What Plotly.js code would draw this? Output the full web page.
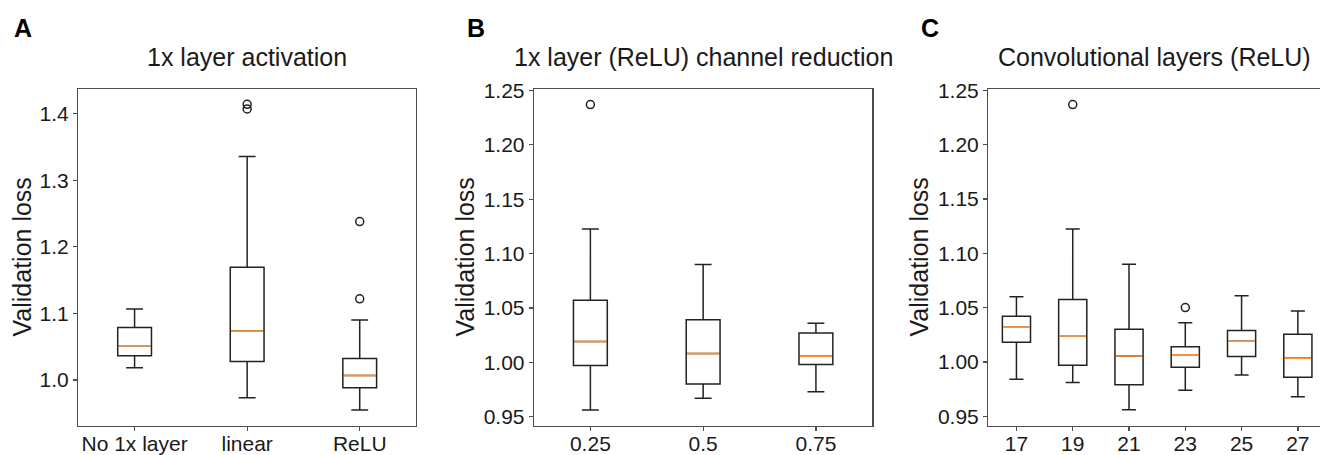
<!DOCTYPE html>
<html>
<head>
<meta charset="utf-8">
<script src="https://cdn.plot.ly/plotly-3.0.1.min.js"></script>
<style>
  html, body { margin: 0; padding: 0; background: #fff; }
  #wrap { width: 1320px; height: 455px; overflow: hidden; }
  #chart { width: 1340px; height: 455px; }
</style>
</head>
<body>
<div id="wrap"><div id="chart"></div></div>
<script>
// ---- Panel A: 1x layer activation ----
const catsA = ['No 1x layer', 'linear', 'ReLU'];
const aQ1 = [1.0365, 1.028, 0.9885];
const aMed = [1.0515, 1.0735, 1.007];
const aQ3 = [1.079, 1.1695, 1.0325];
const aLo = [1.0185, 0.9735, 0.955];
const aHi = [1.1065, 1.3355, 1.090];
const aOutX = ['linear', 'linear', 'ReLU', 'ReLU'];
const aOutY = [1.414, 1.407, 1.238, 1.122];

// ---- Panel B: 1x layer (ReLU) channel reduction ----
const catsB = ['0.25', '0.5', '0.75'];
const bQ1 = [0.997, 0.980, 0.998];
const bMed = [1.019, 1.008, 1.0055];
const bQ3 = [1.057, 1.039, 1.027];
const bLo = [0.956, 0.967, 0.973];
const bHi = [1.1225, 1.090, 1.036];
const bOutX = ['0.25'];
const bOutY = [1.237];

// ---- Panel C: Convolutional layers (ReLU) ----
const catsC = ['17', '19', '21', '23', '25', '27'];
const cQ1 = [1.018, 0.997, 0.979, 0.995, 1.005, 0.986];
const cMed = [1.032, 1.024, 1.0055, 1.0065, 1.019, 1.0035];
const cQ3 = [1.042, 1.0575, 1.030, 1.014, 1.029, 1.0255];
const cLo = [0.984, 0.981, 0.956, 0.974, 0.988, 0.968];
const cHi = [1.060, 1.1225, 1.090, 1.036, 1.061, 1.047];
const cOutX = ['19', '23'];
const cOutY = [1.237, 1.050];

const titles = ['1x layer activation', '1x layer (ReLU) channel reduction', 'Convolutional layers (ReLU)'];
const letters = ['A', 'B', 'C'];
const yLabel = 'Validation loss';

const W = 1340, H = 455;
const px = v => v / W;
const py = v => 1 - v / H;

const BOX_COLOR = '#222222';
const MED_COLOR = '#ff9233';
const FRAME = '#4d4d4d';
const FONT = 'Liberation Sans, Arial, sans-serif';

function panelTraces(cats, q1, med, q3, lo, hi, outX, outY, xa, ya, w) {
  return [
    {
      type: 'box', x: cats, q1: q1, median: med, q3: q3, lowerfence: lo, upperfence: hi,
      xaxis: xa, yaxis: ya, width: w, whiskerwidth: 0.5, boxpoints: false,
      fillcolor: 'rgba(0,0,0,0)', line: { color: BOX_COLOR, width: 1.5 },
      hoverinfo: 'skip', showlegend: false
    },
    {
      type: 'box', x: cats, q1: med, median: med, q3: med, lowerfence: med, upperfence: med,
      xaxis: xa, yaxis: ya, width: w * 0.96, whiskerwidth: 0, boxpoints: false,
      fillcolor: 'rgba(0,0,0,0)', line: { color: MED_COLOR, width: 1.6 },
      hoverinfo: 'skip', showlegend: false
    },
    {
      type: 'scatter', mode: 'markers', x: outX, y: outY, xaxis: xa, yaxis: ya,
      marker: { symbol: 'circle-open', size: 8, color: BOX_COLOR, line: { width: 1.5, color: BOX_COLOR } },
      hoverinfo: 'skip', showlegend: false
    }
  ];
}

const data = [].concat(
  panelTraces(catsA, aQ1, aMed, aQ3, aLo, aHi, aOutX, aOutY, 'x', 'y', 0.3),
  panelTraces(catsB, bQ1, bMed, bQ3, bLo, bHi, bOutX, bOutY, 'x2', 'y2', 0.3),
  panelTraces(catsC, cQ1, cMed, cQ3, cLo, cHi, cOutX, cOutY, 'x3', 'y3', 0.5)
);

const yDom = [py(426), py(89)];

function xAxis(dom, n, anchor) {
  return {
    domain: dom, anchor: anchor, type: 'category', range: [-0.5, n - 0.5],
    showline: true, mirror: true, linecolor: FRAME, linewidth: 1.3,
    ticks: 'outside', ticklen: 4, tickwidth: 1.3, tickcolor: FRAME,
    ticklabelstandoff: -6,
    showgrid: false, zeroline: false, fixedrange: true,
    tickfont: { family: FONT, size: 21, color: '#1a1a1a' }
  };
}
function yAxis(anchor, range, dtick, fmt, t0) {
  return {
    domain: yDom, anchor: anchor, range: range, tick0: t0, dtick: dtick, tickformat: fmt,
    showline: true, mirror: true, linecolor: FRAME, linewidth: 1.3,
    ticks: 'outside', ticklen: 4, tickwidth: 1.3, tickcolor: FRAME,
    showgrid: false, zeroline: false, fixedrange: true,
    tickfont: { family: FONT, size: 21, color: '#1a1a1a' }
  };
}

const plotCenters = [(78.3 + 416) / 2, (534 + 872.3) / 2, (988.3 + 1326) / 2 - 3];
const letterX = [23, 476, 930];
const yTitleX = [21, 464, 918];

const annotations = [];
for (let i = 0; i < 3; i++) {
  annotations.push({
    xref: 'paper', yref: 'paper', x: px(plotCenters[i]), y: py(57),
    xanchor: 'center', yanchor: 'middle', showarrow: false, text: titles[i],
    font: { family: FONT, size: 25, color: '#1a1a1a' }
  });
  annotations.push({
    xref: 'paper', yref: 'paper', x: px(letterX[i]), y: py(28),
    xanchor: 'center', yanchor: 'middle', showarrow: false, text: '<b>' + letters[i] + '</b>',
    font: { family: FONT, size: 25, color: '#000' }
  });
  annotations.push({
    xref: 'paper', yref: 'paper', x: px(yTitleX[i]), y: py(257.5),
    xanchor: 'center', yanchor: 'middle', showarrow: false, text: yLabel, textangle: -90,
    font: { family: FONT, size: 25, color: '#1a1a1a' }
  });
}

const layout = {
  width: W, height: H,
  margin: { l: 0, r: 0, t: 0, b: 0 },
  paper_bgcolor: '#fff', plot_bgcolor: '#fff',
  boxmode: 'overlay',
  showlegend: false,
  xaxis: xAxis([px(78.3), px(416)], 3, 'y'),
  yaxis: yAxis('x', [0.931, 1.437], 0.1, '.1f', 1.0),
  xaxis2: xAxis([px(534), px(872.3)], 3, 'y2'),
  yaxis2: yAxis('x2', [0.9414, 1.2513], 0.05, '.2f', 0.95),
  xaxis3: xAxis([px(988.3), px(1326)], 6, 'y3'),
  yaxis3: yAxis('x3', [0.941, 1.2513], 0.05, '.2f', 0.95),
  annotations: annotations
};

Plotly.newPlot('chart', data, layout, { displayModeBar: false, staticPlot: true });
</script>
</body>
</html>
